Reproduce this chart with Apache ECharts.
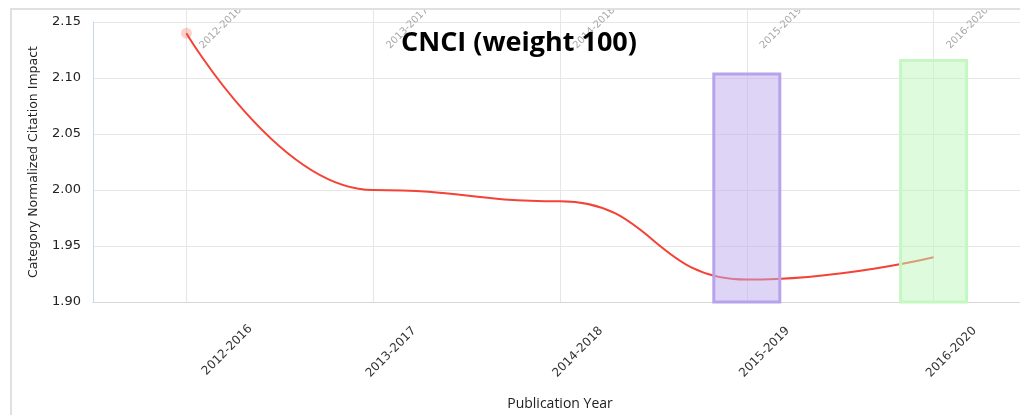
<!DOCTYPE html>
<html>
<head>
<meta charset="utf-8">
<script src="https://cdn.jsdelivr.net/npm/echarts@6/dist/echarts.min.js"></script>
<style>
  html, body { margin: 0; padding: 0; background: #fff; }
  #chart { width: 1020px; height: 415px; }
</style>
</head>
<body>
<div id="chart"></div>
<script>
const categories = ['2012-2016', '2013-2017', '2014-2018', '2015-2019', '2016-2020'];
const cnci = [2.14, 2.00, 1.99, 1.92, 1.94];
const barPurple = [null, null, null, 2.105, null];
const barGreen = [null, null, null, null, 2.117];
const yTicks = { min: 1.90, max: 2.15, step: 0.05 };

const labelFont = 'DejaVu Sans';
const chart = echarts.init(document.getElementById('chart'), null, { renderer: 'canvas' });

// main plot grid plus two label-only grids shifted horizontally (label offsets as in the original)
const baseGrid = { top: 22, bottom: 113, containLabel: false, outerBoundsMode: 'none' };
const labelAxisBase = {
  type: 'category',
  position: 'bottom',
  data: categories,
  boundaryGap: true,
  axisLine: { show: false },
  axisTick: { show: false },
  splitLine: { show: false }
};
const labelStyle = { interval: 0, rotate: 45, hideOverlap: false, fontFamily: labelFont, fontSize: 12, color: '#333' };

const option = {
  animation: false,
  backgroundColor: '#ffffff',
  title: {
    text: 'CNCI (weight 100)',
    left: 396,
    top: 25,
    textStyle: { fontFamily: 'Open Sans', fontWeight: 'bold', fontSize: 27, color: '#000' }
  },
  grid: [
    Object.assign({ left: 93, right: -7 }, baseGrid),
    Object.assign({ left: 134, right: -48 }, baseGrid),
    Object.assign({ left: 157, right: -71 }, baseGrid)
  ],
  xAxis: [
    {
      type: 'category',
      gridIndex: 0,
      position: 'bottom',
      data: categories,
      boundaryGap: true,
      axisLine: { show: true, lineStyle: { color: '#d6d6d6', width: 1 } },
      axisTick: { show: false },
      splitLine: { show: false },
      axisLabel: { show: false },
      name: 'Publication Year',
      nameLocation: 'middle',
      nameGap: 95,
      nameMoveOverlap: false,
      nameTextStyle: { fontFamily: 'Open Sans', fontSize: 14, color: '#222' }
    },
    {
      type: 'category',
      gridIndex: 0,
      position: 'top',
      data: categories,
      boundaryGap: true,
      offset: 12,
      axisLine: { show: false },
      axisTick: { show: true, alignWithLabel: true, inside: true, length: 292, lineStyle: { color: '#e6e6e6', width: 1 } },
      splitLine: { show: false },
      axisLabel: {
        interval: 0, inside: true, rotate: -45, align: 'left', verticalAlign: 'middle', margin: 52,
        padding: [0, 0, 0, 21], hideOverlap: false,
        fontFamily: labelFont, fontSize: 10, color: '#a8a8a8'
      }
    },
    Object.assign({ gridIndex: 1 }, labelAxisBase, {
      axisLabel: Object.assign({ margin: 27, formatter: (v, i) => (i === 0 ? '' : v) }, labelStyle)
    }),
    Object.assign({ gridIndex: 2 }, labelAxisBase, {
      axisLabel: Object.assign({ margin: 25, formatter: (v, i) => (i === 0 ? v : '') }, labelStyle)
    })
  ],
  yAxis: [
    {
      type: 'value',
      gridIndex: 0,
      min: yTicks.min, max: yTicks.max, interval: yTicks.step,
      axisLine: { show: true, lineStyle: { color: '#ccd6eb', width: 1 } },
      axisTick: { show: false },
      splitLine: { show: true, lineStyle: { color: '#e6e6e6', width: 1 } },
      axisLabel: {
        margin: 12, fontFamily: labelFont, fontSize: 13, color: '#222',
        formatter: v => v.toFixed(2)
      },
      name: 'Category Normalized Citation Impact',
      nameLocation: 'middle',
      nameRotate: 90,
      nameGap: 53,
      nameMoveOverlap: false,
      nameTextStyle: { fontFamily: labelFont, fontSize: 12.5, color: '#222' }
    },
    { type: 'value', gridIndex: 1, min: yTicks.min, max: yTicks.max, show: false },
    { type: 'value', gridIndex: 2, min: yTicks.min, max: yTicks.max, show: false }
  ],
  series: [
    {
      type: 'line',
      xAxisIndex: 0, yAxisIndex: 0,
      data: cnci,
      smooth: 0.5,
      smoothMonotone: 'x',
      showSymbol: false,
      lineStyle: { color: '#f44336', width: 2 },
      itemStyle: { color: '#f44336' },
      z: 2,
      markPoint: {
        symbol: 'circle',
        symbolSize: 11,
        itemStyle: { color: 'rgba(244,67,54,0.25)' },
        label: { show: false },
        data: [{ coord: [categories[0], cnci[0]] }]
      }
    },
    {
      type: 'bar',
      xAxisIndex: 0, yAxisIndex: 0,
      data: barPurple,
      barWidth: 69,
      barGap: '-100%',
      itemStyle: { color: 'rgba(190,170,235,0.5)', borderColor: '#b8a2ec', borderWidth: 3 },
      z: 3
    },
    {
      type: 'bar',
      xAxisIndex: 0, yAxisIndex: 0,
      data: barGreen,
      barWidth: 69,
      barGap: '-100%',
      itemStyle: { color: 'rgba(190,249,187,0.5)', borderColor: '#c4f8c0', borderWidth: 3 },
      z: 3
    }
  ],
  graphic: [
    { type: 'rect', shape: { x: 0, y: 0, width: 1020, height: 8 }, style: { fill: '#fff' }, z: 100 },
    { type: 'line', shape: { x1: 10, y1: 9, x2: 1020, y2: 9 }, style: { stroke: '#e0e0e0', lineWidth: 2 }, z: 101 },
    { type: 'line', shape: { x1: 11, y1: 8, x2: 11, y2: 415 }, style: { stroke: '#e0e0e0', lineWidth: 2 }, z: 101 }
  ]
};
chart.setOption(option);
</script>
</body>
</html>
